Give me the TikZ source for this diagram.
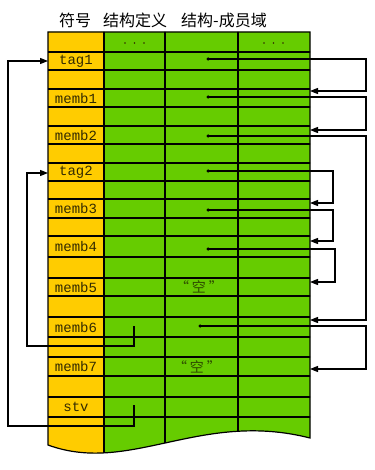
\documentclass[tikz,border=0pt]{standalone}
\usepackage{fontspec}
\newfontfamily\cjk{Noto Sans CJK SC}
\newfontfamily\monof{Liberation Mono}
\usetikzlibrary{arrows.meta}
\definecolor{yel}{HTML}{FFCC00}
\definecolor{grn}{HTML}{66CC00}
\definecolor{labc}{HTML}{332B00}
\definecolor{kongc}{HTML}{2E4A00}
\tikzset{
  grid/.style={line width=1.2pt, black},
  conn/.style={line width=1.2pt, black, line join=miter},
  arr/.style={conn, -{Triangle[length=8pt,width=6pt]}},
  lab/.style={font=\monof\fontsize{14}{14}\selectfont, text=labc, inner sep=0pt},
  ttl/.style={font=\cjk\fontsize{16}{16}\selectfont, inner sep=0pt, anchor=base},
  kong/.style={font=\cjk\fontsize{14}{14}\selectfont, text=kongc, inner sep=0pt},
  dotc/.style={fill=black, circle, inner sep=0pt, minimum size=3.5pt},
  hdot/.style={fill=labc, circle, inner sep=0pt, minimum size=1.8pt}
}
\newcommand{\kongtxt}{“\kern3pt 空\kern3pt ”}
\begin{document}
\begin{tikzpicture}[x=1pt,y=-1pt]
\useasboundingbox (0,0) rectangle (374,470);
\def\shape{(48,32) -- (310,32) -- (310,438) .. controls (200,410) and (130,475) .. (48,445) -- cycle}
% fills
\fill[grn] \shape;
\begin{scope}
  \clip (0,0) rectangle (104,470);
  \fill[yel] \shape;
\end{scope}
% grid
\begin{scope}
  \clip \shape;
  \foreach \yy in {52,70,89,107,126,144,163,181,199,218,236,257,278,296,317,337,357,376,397,417}
    \draw[grid] (40,\yy) -- (320,\yy);
  \foreach \xx in {104,165,238}
    \draw[grid] (\xx,20) -- (\xx,470);
\end{scope}
\draw[grid, line join=miter] \shape;
% title
\node[ttl] (t1) at (75,27) {符号};
\node[ttl] (t2) at (135,27) {结构定义};
\node[ttl] (t3) at (224,27) {结构-成员域};
% header dots
\foreach \hx [count=\i] in {125,134.5,144,264,273.5,283}
  \node[hdot] (h\i) at (\hx,43) {};
% labels
\node[lab] (tag1) at (76,61) {tag1};
\node[lab] (memb1) at (76,98) {memb1};
\node[lab] (memb2) at (76,135) {memb2};
\node[lab] (tag2) at (76,172) {tag2};
\node[lab] (memb3) at (76,208.5) {memb3};
\node[lab] (memb4) at (76,246.5) {memb4};
\node[lab] (memb5) at (76,287) {memb5};
\node[lab] (memb6) at (76,327) {memb6};
\node[lab] (memb7) at (76,366.5) {memb7};
\node[lab] (stv) at (76,407) {stv};
\node[kong] (k1) at (199,287) {\kongtxt};
\node[kong] (k2) at (197,366.5) {\kongtxt};
% dots
\node[dotc] (d1) at (208,59) {};
\node[dotc] (d2) at (208,97) {};
\node[dotc] (d3) at (208,136) {};
\node[dotc] (d4) at (208,171) {};
\node[dotc] (d5) at (208,210) {};
\node[dotc] (d6) at (208,249) {};
\node[dotc] (d7) at (200,326) {};
% arrow targets
\coordinate (a1) at (310,91);
\coordinate (a2) at (310,130);
\coordinate (a3) at (310,320);
\coordinate (a4) at (310,203);
\coordinate (a5) at (310,241);
\coordinate (a6) at (310,282);
\coordinate (a7) at (310,369);
\coordinate (l1) at (48,61);
\coordinate (l2) at (48,173);
\coordinate (s1) at (134,405);
\coordinate (s2) at (134,326);
% right connectors
\draw[arr] (d1.center) -- (366,59) |- (a1);
\draw[arr] (d2.center) -- (366,97) |- (a2);
\draw[arr] (d3.center) -- (366,136) |- (a3);
\draw[arr] (d4.center) -- (333,171) |- (a4);
\draw[arr] (d5.center) -- (333,210) |- (a5);
\draw[arr] (d6.center) -- (335,249) |- (a6);
\draw[arr] (d7.center) -- (366,326) |- (a7);
% left connectors
\draw[arr] (s1) -- (134,426) -- (8,426) |- (l1);
\draw[arr] (s2) -- (134,346) -- (27,346) |- (l2);
\end{tikzpicture}
\end{document}
